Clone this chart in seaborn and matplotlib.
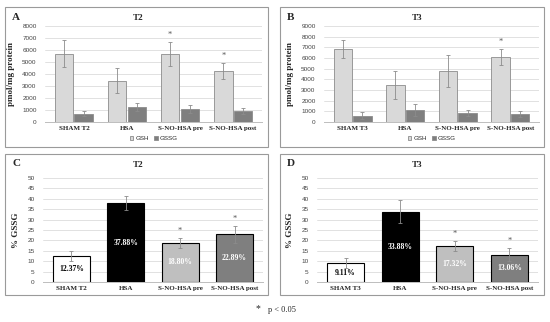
import matplotlib

matplotlib.use("Agg")
import matplotlib.pyplot as plt
import numpy as np
import pandas as pd
import seaborn as sns
from matplotlib.patches import Rectangle

sns.set_theme(style="white")
plt.rcParams["font.family"] = ["Liberation Serif", "DejaVu Serif"]

GROUPS_T2 = ["SHAM T2", "HSA", "S-NO-HSA pre", "S-NO-HSA post"]
GROUPS_T3 = ["SHAM T3", "HSA", "S-NO-HSA pre", "S-NO-HSA post"]

# pmol/mg protein
GSH_T2 = [5700, 3450, 5700, 4250]
GSH_T2_ERR = [1150, 1050, 1000, 700]
GSSG_T2 = [700, 1270, 1080, 920]
GSSG_T2_ERR = [200, 350, 330, 230]
GSH_T3 = [6850, 3450, 4800, 6100]
GSH_T3_ERR = [850, 1300, 1500, 750]
GSSG_T3 = [600, 1120, 830, 750]
GSSG_T3_ERR = [350, 550, 300, 280]

# % GSSG
PCT_T2 = [12.37, 37.88, 18.80, 22.89]
PCT_T2_ERR = [2.5, 3.3, 2.5, 4.0]
PCT_T3 = [9.11, 33.88, 17.32, 13.06]
PCT_T3_ERR = [2.4, 5.5, 2.5, 3.2]

SIG_T2 = [False, False, True, True]   # GSH stars panel A
SIG_T3 = [False, False, False, True]  # GSH stars panel B
SIG_PCT = [False, False, True, True]

GSH_COLOR, GSSG_COLOR = "#d9d9d9", "#7f7f7f"
PCT_COLORS = ["#ffffff", "#000000", "#bfbfbf", "#7f7f7f"]
LABEL_COLORS = ["black", "white", "white", "white"]

W, H = 550, 322
fig = plt.figure(figsize=(W / 100, H / 100), dpi=100)


def px_axes(x0, x1, ytop, ybot):
    return fig.add_axes([x0 / W, 1 - ybot / H, (x1 - x0) / W, (ybot - ytop) / H])


def frame(x0, y0, x1, y1, letter, title, tx):
    fig.patches.append(Rectangle((x0 / W, 1 - y1 / H), (x1 - x0) / W, (y1 - y0) / H,
                                 transform=fig.transFigure, fill=False,
                                 edgecolor="#9a9a9a", lw=0.8))
    fig.text((x0 + 7) / W, 1 - (y0 + 10) / H, letter, fontsize=8, fontweight="bold",
             va="center")
    fig.text(tx / W, 1 - (y0 + 11) / H, title, fontsize=6.5, fontweight="bold",
             ha="center", va="center")


def style(ax, ymax, step, ylabel):
    ax.set_ylim(0, ymax)
    ax.set_yticks(np.arange(0, ymax + 1, step))
    ax.grid(axis="y", color="#dcdcdc", lw=0.6)
    ax.set_axisbelow(True)
    for s in ["top", "right", "left"]:
        ax.spines[s].set_visible(False)
    ax.spines["bottom"].set_color("#bdbdbd")
    ax.spines["bottom"].set_linewidth(0.7)
    ax.tick_params(axis="y", labelsize=4.6, length=0, pad=6)
    for t in ax.get_yticklabels():
        t.set_fontfamily("Liberation Sans")
        t.set_color("#444444")
    ax.tick_params(axis="x", labelsize=5, length=0, pad=3)
    for t in ax.get_xticklabels():
        t.set_fontweight("bold")
    ax.set_xlabel("")
    ax.set_ylabel(ylabel, fontsize=6.5, fontweight="bold", labelpad=5)


def glut_panel(ax, groups, gsh, gsh_err, gssg, gssg_err, sig, ymax):
    df = pd.DataFrame({
        "group": groups * 2,
        "value": gsh + gssg,
        "err": gsh_err + gssg_err,
        "kind": ["GSH"] * 4 + ["GSSG"] * 4,
    })
    sns.barplot(data=df, x="group", y="value", hue="kind", ax=ax, width=0.74,
                palette=[GSH_COLOR, GSSG_COLOR], errorbar=None, gap=0.06,
                edgecolor="#8c8c8c", linewidth=0.6)
    bars = ax.patches[:8]
    for bar, v, e in zip(bars, df["value"], df["err"]):
        cx = bar.get_x() + bar.get_width() / 2
        ax.errorbar(cx, v, yerr=e, fmt="none", ecolor="#8c8c8c", elinewidth=0.6,
                    capsize=1.2, capthick=0.6)
    for bar, v, e, s in zip(bars[:4], gsh, gsh_err, sig):
        if s:
            ax.text(bar.get_x() + bar.get_width() / 2, v + e + ymax * 0.03, "*",
                    ha="center", va="bottom", fontsize=6, color="#555555")
    style(ax, ymax, 1000, "pmol/mg protein")
    ax.legend(loc="upper center", bbox_to_anchor=(0.5, -0.09), ncol=2, frameon=False,
              handlelength=0.6, handleheight=0.6, handletextpad=0.3,
              columnspacing=0.8, prop={"family": "Liberation Sans", "size": 4.5})


def pct_panel(ax, groups, pct, err, sig):
    df = pd.DataFrame({"group": groups, "value": pct})
    sns.barplot(data=df, x="group", y="value", hue="group", palette=PCT_COLORS,
                ax=ax, width=0.68, errorbar=None, edgecolor="black", linewidth=0.8,
                legend=False)
    for bar, v, e, s, c in zip(ax.patches[:4], pct, err, sig, LABEL_COLORS):
        cx = bar.get_x() + bar.get_width() / 2
        ax.errorbar(cx, v, yerr=e, fmt="none", ecolor="#8c8c8c", elinewidth=0.6,
                    capsize=1.2, capthick=0.6)
        ax.text(cx, v / 2, f"{v:.2f}%", ha="center", va="center", fontsize=5.5,
                fontweight="bold", color=c)
        if s:
            ax.text(cx, v + e + 1.5, "*", ha="center", va="bottom", fontsize=6,
                    color="#555555")
    style(ax, 50, 5, "% GSSG")


frame(5, 7, 268, 147, "A", "T2", 138)
frame(280, 7, 544, 147, "B", "T3", 417)
frame(5, 154, 268, 295, "C", "T2", 138)
frame(280, 154, 544, 295, "D", "T3", 417)

glut_panel(px_axes(45, 262, 26, 122), GROUPS_T2, GSH_T2, GSH_T2_ERR,
           GSSG_T2, GSSG_T2_ERR, SIG_T2, 8000)
glut_panel(px_axes(324, 539, 26, 122), GROUPS_T3, GSH_T3, GSH_T3_ERR,
           GSSG_T3, GSSG_T3_ERR, SIG_T3, 9000)
pct_panel(px_axes(43, 263, 178, 282), GROUPS_T2, PCT_T2, PCT_T2_ERR, SIG_PCT)
pct_panel(px_axes(317, 538, 178, 282), GROUPS_T3, PCT_T3, PCT_T3_ERR, SIG_PCT)

fig.text(258 / W, 1 - 309 / H, "*", fontsize=7, ha="center", va="center")
fig.text(268 / W, 1 - 310 / H, "p < 0.05", fontsize=6, ha="left", va="center")

fig.savefig("out.png", dpi=100)
